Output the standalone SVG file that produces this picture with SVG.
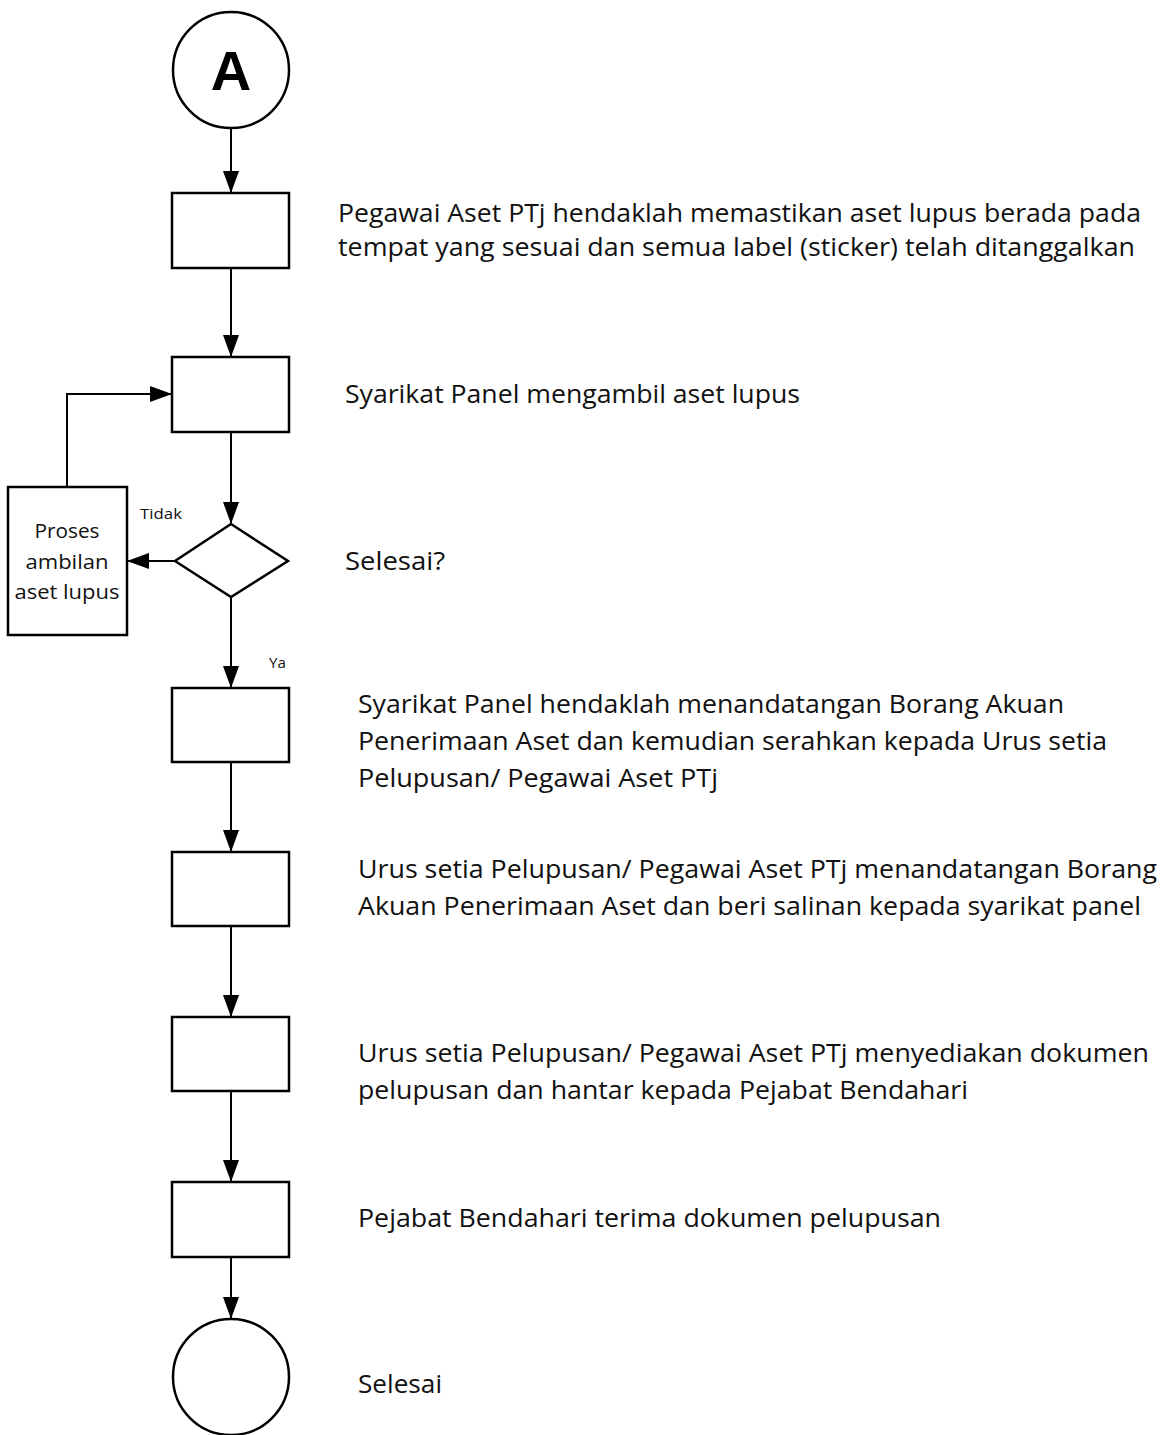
<svg xmlns="http://www.w3.org/2000/svg" width="1162" height="1435" viewBox="0 0 1162 1435">
<style>
.s{fill:#fff;stroke:#000;stroke-width:2.5}
.c{fill:none;stroke:#000;stroke-width:2}
.t{font-family:"Open Sans","Liberation Sans",sans-serif;font-size:26px;fill:#111}
.p{font-family:"Open Sans","Liberation Sans",sans-serif;font-size:20px;fill:#111;text-anchor:middle}
.l{font-family:"Open Sans","Liberation Sans",sans-serif;font-size:15px;fill:#111}
.a{font-family:"Liberation Sans",Arial,sans-serif;font-size:56px;font-weight:bold;fill:#000;text-anchor:middle}
</style>
<defs>
<marker id="ar" markerUnits="userSpaceOnUse" markerWidth="26" markerHeight="18" refX="22" refY="8" orient="auto">
<path d="M0,0 L22,8 L0,16 z" fill="#000"/>
</marker>
</defs>
<rect width="1162" height="1435" fill="#fff"/>
<g id="connectors">
<line class="c" x1="231" y1="128" x2="231" y2="193" marker-end="url(#ar)"/>
<line class="c" x1="231" y1="268" x2="231" y2="357" marker-end="url(#ar)"/>
<line class="c" x1="231" y1="432" x2="231" y2="524" marker-end="url(#ar)"/>
<line class="c" x1="175" y1="561" x2="127" y2="561" marker-end="url(#ar)"/>
<polyline class="c" points="67,487 67,394 172,394" marker-end="url(#ar)"/>
<line class="c" x1="231" y1="597" x2="231" y2="688" marker-end="url(#ar)"/>
<line class="c" x1="231" y1="762" x2="231" y2="852" marker-end="url(#ar)"/>
<line class="c" x1="231" y1="926" x2="231" y2="1017" marker-end="url(#ar)"/>
<line class="c" x1="231" y1="1091" x2="231" y2="1182" marker-end="url(#ar)"/>
<line class="c" x1="231" y1="1257" x2="231" y2="1319" marker-end="url(#ar)"/>
<text class="l" x="140" y="519" textLength="42" lengthAdjust="spacingAndGlyphs">Tidak</text>
<text class="l" x="269" y="668" textLength="17" lengthAdjust="spacingAndGlyphs">Ya</text>
</g>
<g id="start">
<circle class="s" cx="231" cy="70" r="58"/>
<text class="a" x="231" y="90">A</text>
</g>
<g id="step1">
<rect class="s" x="172" y="193" width="117" height="75"/>
<text class="t" x="338" y="222" textLength="803" lengthAdjust="spacingAndGlyphs">Pegawai Aset PTj hendaklah memastikan aset lupus berada pada</text>
<text class="t" x="338" y="256" textLength="797" lengthAdjust="spacingAndGlyphs">tempat yang sesuai dan semua label (sticker) telah ditanggalkan</text>
</g>
<g id="step2">
<rect class="s" x="172" y="357" width="117" height="75"/>
<text class="t" x="345" y="403" textLength="455" lengthAdjust="spacingAndGlyphs">Syarikat Panel mengambil aset lupus</text>
</g>
<g id="decision">
<polygon class="s" points="231,524 288,561 231,597 175,561"/>
<text class="t" x="345" y="570" textLength="100" lengthAdjust="spacingAndGlyphs">Selesai?</text>
</g>
<g id="proses">
<rect class="s" x="8" y="487" width="119" height="148"/>
<text class="p" x="67" y="538" textLength="65" lengthAdjust="spacingAndGlyphs">Proses</text>
<text class="p" x="67" y="569" textLength="83" lengthAdjust="spacingAndGlyphs">ambilan</text>
<text class="p" x="67" y="599" textLength="105" lengthAdjust="spacingAndGlyphs">aset lupus</text>
</g>
<g id="step3">
<rect class="s" x="172" y="688" width="117" height="74"/>
<text class="t" x="358" y="713" textLength="706" lengthAdjust="spacingAndGlyphs">Syarikat Panel hendaklah menandatangan Borang Akuan</text>
<text class="t" x="358" y="750" textLength="749" lengthAdjust="spacingAndGlyphs">Penerimaan Aset dan kemudian serahkan kepada Urus setia</text>
<text class="t" x="358" y="787" textLength="360" lengthAdjust="spacingAndGlyphs">Pelupusan/ Pegawai Aset PTj</text>
</g>
<g id="step4">
<rect class="s" x="172" y="852" width="117" height="74"/>
<text class="t" x="358" y="878" textLength="799" lengthAdjust="spacingAndGlyphs">Urus setia Pelupusan/ Pegawai Aset PTj menandatangan Borang</text>
<text class="t" x="358" y="915" textLength="783" lengthAdjust="spacingAndGlyphs">Akuan Penerimaan Aset dan beri salinan kepada syarikat panel</text>
</g>
<g id="step5">
<rect class="s" x="172" y="1017" width="117" height="74"/>
<text class="t" x="358" y="1062" textLength="791" lengthAdjust="spacingAndGlyphs">Urus setia Pelupusan/ Pegawai Aset PTj menyediakan dokumen</text>
<text class="t" x="358" y="1099" textLength="610" lengthAdjust="spacingAndGlyphs">pelupusan dan hantar kepada Pejabat Bendahari</text>
</g>
<g id="step6">
<rect class="s" x="172" y="1182" width="117" height="75"/>
<text class="t" x="358" y="1227" textLength="583" lengthAdjust="spacingAndGlyphs">Pejabat Bendahari terima dokumen pelupusan</text>
</g>
<g id="end">
<circle class="s" cx="231" cy="1377" r="58"/>
<text class="t" x="358" y="1393" textLength="84" lengthAdjust="spacingAndGlyphs">Selesai</text>
</g>
</svg>
